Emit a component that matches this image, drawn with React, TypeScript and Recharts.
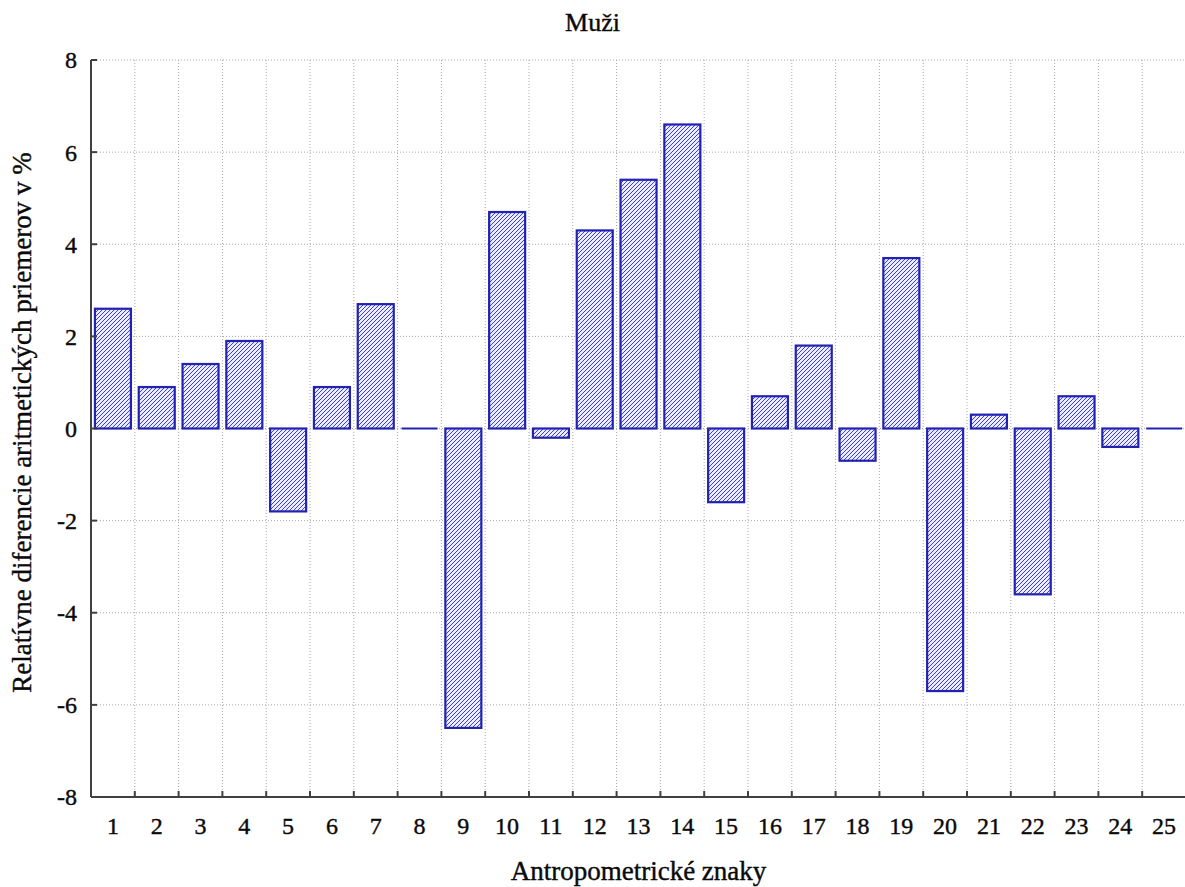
import React from 'react';
import { BarChart, Bar, XAxis, YAxis, CartesianGrid } from 'recharts';

// Antropometrické znaky 1..25
const categories = [
  '1', '2', '3', '4', '5', '6', '7', '8', '9', '10', '11', '12', '13',
  '14', '15', '16', '17', '18', '19', '20', '21', '22', '23', '24', '25',
];

// relatívne diferencie v %
const values = [
  2.6, 0.9, 1.4, 1.9, -1.8, 0.9, 2.7, 0, -6.5, 4.7, -0.2, 4.3, 5.4,
  6.6, -1.6, 0.7, 1.8, -0.7, 3.7, -5.7, 0.3, -3.6, 0.7, -0.4, 0,
];

const yTicks = [-8, -6, -4, -2, 0, 2, 4, 6, 8];

const data = categories.map((name, i) => ({ name, value: values[i] }));

const FONT = '"Liberation Serif", "Times New Roman", serif';
const BLUE = '#2222b0';
const HATCH = '#4040d8';
const AXIS = '#404040';
const TEXT = '#0a0a0a';

const HatchedBar = (props: any) => {
  const { x, y, width, height } = props;
  if (x == null || y == null) return null;
  if (Math.abs(height) < 1) {
    return <line x1={x} x2={x + width} y1={y} y2={y} stroke={BLUE} strokeWidth={2} />;
  }
  const top = Math.min(y, y + height);
  const h = Math.abs(height);
  return (
    <rect x={x} y={top} width={width} height={h} fill="url(#hatch)" stroke={BLUE} strokeWidth={2.2} />
  );
};

const BottomTick = (props: any) => {
  const { x, y, payload } = props;
  const half = payload && payload.offset ? payload.offset : 21.9;
  return (
    <g>
      <line x1={x - half} x2={x - half} y1={y} y2={y - 6} stroke={AXIS} strokeWidth={2} />
      <text x={x} y={y + 29} textAnchor="middle" dy="0.35em" fontFamily={FONT} fontSize={24} fill={TEXT} stroke={TEXT} strokeWidth={0.4}>
        {payload.value}
      </text>
    </g>
  );
};

const TopTick = (props: any) => {
  const { x, y, payload } = props;
  const half = payload && payload.offset ? payload.offset : 21.9;
  if (payload.index === 0) return null;
  return <line x1={x - half} x2={x - half} y1={y} y2={y + 6} stroke={AXIS} strokeWidth={2} />;
};

const LeftTick = (props: any) => {
  const { x, y, payload } = props;
  return (
    <g>
      <line x1={x} x2={x + 6} y1={y} y2={y} stroke={AXIS} strokeWidth={2} />
      <text x={x - 14} y={y} textAnchor="end" dy="0.35em" fontFamily={FONT} fontSize={24} fill={TEXT} stroke={TEXT} strokeWidth={0.4}>
        {payload.value}
      </text>
    </g>
  );
};

const YTitle = (props: any) => {
  const vb = props.viewBox || { x: 0, y: 60, height: 737 };
  const cx = vb.x + 22;
  const cy = vb.y + vb.height / 2 - 6;
  return (
    <text
      x={cx}
      y={cy}
      transform={`rotate(-90, ${cx}, ${cy})`}
      textAnchor="middle"
      dy="0.35em"
      fontFamily={FONT}
      fontSize={27}
      fill={TEXT}
      stroke={TEXT}
      strokeWidth={0.4}
    >
      Relatívne diferencie aritmetických priemerov v %
    </text>
  );
};

export default function App() {
  return (
    <div style={{ position: 'relative', width: 1185, height: 887, overflow: 'hidden', background: '#fff' }}>
      <style>{'body{margin:0}'}</style>
      <div
        style={{
          position: 'absolute',
          top: 10,
          left: 0,
          width: 1185,
          textAlign: 'center',
          fontFamily: FONT,
          fontSize: 26,
          lineHeight: '26px',
          color: TEXT,
          WebkitTextStroke: '0.4px #0a0a0a',
        }}
      >
        Muži
      </div>
      <BarChart
        width={1186}
        height={887}
        data={data}
        margin={{ top: 60, right: 0, bottom: 0, left: 0 }}
        barCategoryGap="9%"
      >
        <defs>
          <pattern id="hatch" patternUnits="userSpaceOnUse" width={4} height={4}>
            <rect x={0} y={0} width={4} height={4} fill="#ececff" />
            <path d="M-1,1 l2,-2 M0,4 l4,-4 M3,5 l2,-2" stroke={HATCH} strokeWidth={1} />
          </pattern>
        </defs>
        <CartesianGrid
          stroke="#a8a8a8"
          strokeDasharray="1 2"
          verticalCoordinatesGenerator={({ offset }: any) =>
            categories.slice(1).map((_, i) => offset.left + ((i + 1) * offset.width) / categories.length)
          }
        />
        <XAxis
          xAxisId="top"
          orientation="top"
          dataKey="name"
          height={0}
          axisLine={{ stroke: AXIS, strokeWidth: 2 }}
          tickLine={false}
          tickSize={0}
          tick={<TopTick />}
          interval={0}
        />
        <XAxis
          dataKey="name"
          height={90}
          axisLine={{ stroke: AXIS, strokeWidth: 2 }}
          tickLine={false}
          tickSize={0}
          tickMargin={0}
          tick={<BottomTick />}
          interval={0}
          label={{
            value: 'Antropometrické znaky',
            position: 'insideBottom',
            offset: 7,
            fontFamily: FONT,
            fontSize: 27,
            fill: TEXT,
            stroke: TEXT,
            strokeWidth: 0.4,
          }}
        />
        <YAxis
          width={91}
          domain={[-8, 8]}
          ticks={yTicks}
          allowDataOverflow
          axisLine={{ stroke: AXIS, strokeWidth: 2 }}
          tickLine={false}
          tickSize={0}
          tickMargin={0}
          tick={<LeftTick />}
          interval={0}
          label={<YTitle />}
        />
        <Bar dataKey="value" shape={<HatchedBar />} isAnimationActive={false} />
      </BarChart>
    </div>
  );
}
